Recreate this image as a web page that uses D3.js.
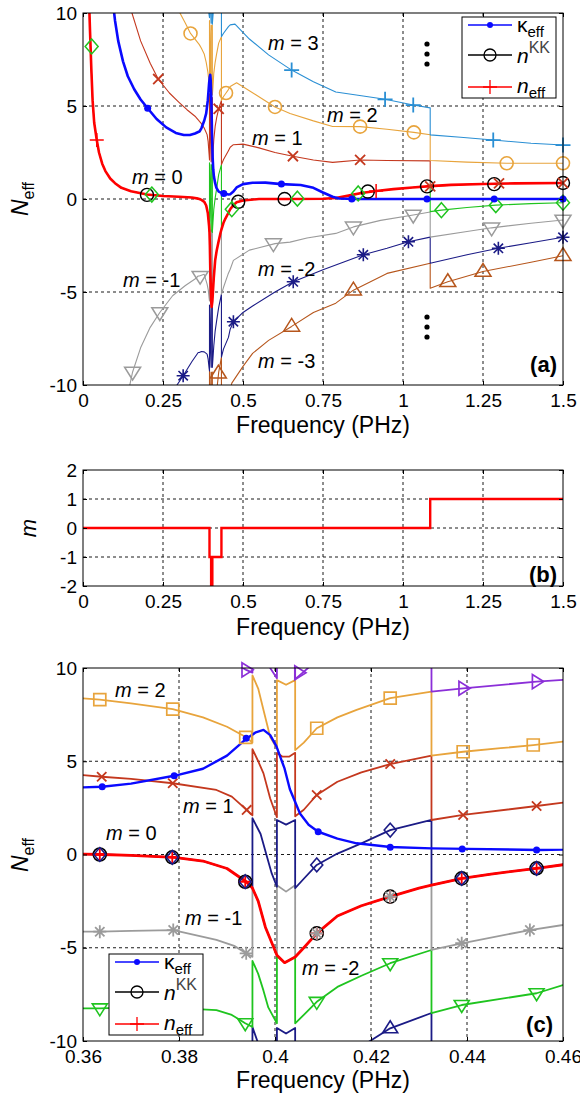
<!DOCTYPE html>
<html>
<head>
<meta charset="utf-8">
<script src="https://cdn.jsdelivr.net/npm/d3@7"></script>
<style>
  body { margin: 0; background: #fff; }
  svg text { font-family: "Liberation Sans", Arial, sans-serif; }
</style>
</head>
<body>
<svg id="fig" width="580" height="1096"></svg>
<script>
// ---------------- tick values and labels ----------------
const ticksFreqWide = [0, 0.25, 0.5, 0.75, 1, 1.25, 1.5];
const labelsFreqWide = ["0", "0.25", "0.5", "0.75", "1", "1.25", "1.5"];
const ticksN = [-10, -5, 0, 5, 10];
const labelsN = ["-10", "-5", "0", "5", "10"];
const ticksM = [-2, -1, 0, 1, 2];
const labelsM = ["-2", "-1", "0", "1", "2"];
const ticksFreqZoom = [0.36, 0.38, 0.40, 0.42, 0.44, 0.46];
const labelsFreqZoom = ["0.36", "0.38", "0.4", "0.42", "0.44", "0.46"];

// ---------------- curves: [frequency (PHz), value]; null breaks a line ----------------
// retrieved effective index n_eff
const nEff = [[0.019,10.6],[0.022,9.0],[0.026,7.0],[0.03,5.3],[0.035,4.1],[0.043,3.17],[0.05,2.5],[0.06,1.9],[0.07,1.5],[0.085,1.1],[0.1,0.85],[0.12,0.6],[0.15,0.42],[0.2,0.24],[0.25,0.16],[0.3,0.12],[0.34,0.08],[0.36,0.02],[0.364,0],[0.37,-0.05],[0.379,-0.15],[0.385,-0.35],[0.39,-0.75],[0.394,-1.46],[0.3953,-1.8],[0.3965,-2.5],[0.398,-3.9],[0.4004,-5.4],[0.402,-5.8],[0.4042,-5.5],[0.406,-5.0],[0.4087,-4.23],[0.413,-3.3],[0.418,-2.75],[0.424,-2.26],[0.43,-1.8],[0.4326,-1.64],[0.439,-1.28],[0.445,-1.05],[0.4545,-0.74],[0.46,-0.55],[0.47,-0.33],[0.48,-0.18],[0.5,-0.08],[0.55,0],[0.65,0],[0.75,0.01],[0.79,0.05],[0.83,0.18],[0.87,0.32],[0.916,0.43],[0.97,0.53],[1.03,0.62],[1.085,0.69],[1.15,0.76],[1.25,0.81],[1.35,0.84],[1.5,0.86]];

// Kramers-Kronig index n^KK
const nKK = [[0.019,10.6],[0.022,9.0],[0.026,7.0],[0.03,5.3],[0.035,4.1],[0.043,3.17],[0.05,2.5],[0.06,1.9],[0.07,1.5],[0.085,1.1],[0.1,0.85],[0.12,0.6],[0.15,0.42],[0.2,0.24],[0.25,0.16],[0.3,0.12],[0.34,0.08],[0.36,0.02],[0.364,0],[0.37,-0.05],[0.379,-0.15],[0.385,-0.35],[0.39,-0.75],[0.394,-1.46],[0.3953,-1.8],[0.3965,-2.5],[0.398,-3.9],[0.4004,-5.4],[0.402,-5.8],[0.4042,-5.5],[0.406,-5.0],[0.4087,-4.23],[0.413,-3.3],[0.418,-2.75],[0.424,-2.26],[0.43,-1.8],[0.4326,-1.64],[0.439,-1.28],[0.445,-1.05],[0.4545,-0.74],[0.46,-0.55],[0.47,-0.33],[0.48,-0.18],[0.5,-0.08],[0.55,0],[0.65,0],[0.75,0.01],[0.79,0.05],[0.83,0.18],[0.87,0.32],[0.916,0.43],[0.97,0.53],[1.03,0.62],[1.085,0.69],[1.15,0.76],[1.25,0.81],[1.35,0.84],[1.5,0.86]];

// effective extinction kappa_eff
const kappaEff = [[0.094,10.5],[0.1,9.6],[0.11,8.5],[0.125,7.4],[0.14,6.6],[0.16,5.9],[0.18,5.35],[0.202,4.88],[0.23,4.3],[0.26,3.85],[0.29,3.55],[0.315,3.44],[0.334,3.44],[0.35,3.52],[0.36,3.6],[0.364,3.63],[0.37,3.8],[0.379,4.22],[0.385,4.6],[0.39,5.3],[0.394,6.2],[0.396,6.55],[0.3976,6.68],[0.399,6.4],[0.4003,5.8],[0.402,4.6],[0.4031,3.5],[0.4052,2.2],[0.407,1.6],[0.409,1.22],[0.413,0.85],[0.417,0.6],[0.424,0.4],[0.4326,0.33],[0.44,0.3],[0.455,0.24],[0.46,0.26],[0.47,0.4],[0.48,0.62],[0.5,0.8],[0.53,0.87],[0.57,0.88],[0.62,0.8],[0.68,0.75],[0.72,0.6],[0.75,0.35],[0.78,0.12],[0.8,0.03],[0.85,0],[1.0,0],[1.5,0]];

// branch curves m = 3 ... -3
const branchP3 = [[0.36,12.4],[0.3788,11.6],[0.385,11.1],[0.39,10.5],[0.394,9.9],[0.3953,9.75],[0.3953,13.4],[0.3976,11.5],[0.399,10.0],[0.4004,9.45],[0.4004,13.0],null,[0.4042,13.0],[0.4042,9.4],[0.4087,10.4],[0.415,11.2],[0.424,11.9],[0.4326,12.2],[0.4326,8.73],[0.4392,8.91],[0.4545,9.27],[0.46,9.36],[0.475,9.4],[0.52,8.6],[0.58,7.75],[0.652,6.93],[0.72,6.3],[0.79,5.75],[0.87,5.55],[0.944,5.36],[1.032,5.05],[1.085,4.9],[1.085,3.45],[1.18,3.32],[1.282,3.17],[1.4,3.0],[1.5,2.9]];

const branchP2 = [[0.29,10.6],[0.303,10.0],[0.32,9.45],[0.336,8.9],[0.3635,8.3],[0.37,8.1],[0.3787,7.8],[0.385,7.35],[0.39,6.85],[0.3939,6.3],[0.3953,6.0],[0.3953,9.6],[0.3965,8.9],[0.3976,7.75],[0.399,6.3],[0.4004,5.7],[0.4004,9.35],[0.4023,9.1],[0.4042,9.35],[0.4042,5.6],[0.406,6.0],[0.4087,6.77],[0.413,7.35],[0.417,7.75],[0.424,8.38],[0.4326,8.73],[0.4326,5.3],[0.4392,5.51],[0.447,5.7],[0.4538,5.87],[0.46,6.05],[0.48,6.25],[0.54,5.6],[0.6,4.95],[0.647,4.6],[0.72,4.2],[0.78,3.9],[0.866,3.89],[0.95,3.75],[1.034,3.58],[1.085,3.45],[1.085,2.07],[1.2,1.98],[1.324,1.92],[1.5,1.92]];

const branchP1 = [[0.15,10.5],[0.153,10.0],[0.18,8.5],[0.21,7.3],[0.235,6.45],[0.27,5.7],[0.3,5.2],[0.325,4.8],[0.35,4.45],[0.36,4.26],[0.3639,4.17],[0.37,4.05],[0.3787,3.82],[0.3878,3.46],[0.391,3.1],[0.3941,2.39],[0.3953,2.1],[0.3953,5.65],[0.3965,5.0],[0.3976,4.35],[0.399,3.0],[0.4004,2.0],[0.4004,5.45],[0.4015,5.25],[0.403,5.25],[0.4042,5.45],[0.4042,2.05],[0.406,2.4],[0.4087,3.19],[0.413,3.9],[0.418,4.4],[0.424,4.85],[0.4326,5.3],[0.4326,1.85],[0.4392,2.12],[0.4545,2.6],[0.46,2.78],[0.47,2.92],[0.5,2.95],[0.55,2.75],[0.6,2.5],[0.656,2.3],[0.72,2.1],[0.78,1.97],[0.866,2.1],[0.95,2.07],[1.085,2.05],[1.085,0.68],[1.2,0.78],[1.3,0.84],[1.5,0.86]];

const branchP0 = [[0.019,10.6],[0.022,9.0],[0.026,7.0],[0.03,5.3],[0.035,4.1],[0.043,3.17],[0.05,2.5],[0.06,1.9],[0.07,1.5],[0.085,1.1],[0.1,0.85],[0.12,0.6],[0.15,0.42],[0.2,0.24],[0.25,0.16],[0.3,0.12],[0.34,0.08],[0.36,0.02],[0.364,0],[0.37,-0.05],[0.379,-0.15],[0.385,-0.35],[0.39,-0.75],[0.394,-1.46],[0.3953,-1.8],[0.3953,1.95],[0.397,1.1],[0.3983,-0.1],[0.3993,-1.0],[0.4004,-1.73],[0.4004,1.85],[0.4023,1.6],[0.4042,1.85],[0.4042,-1.8],[0.406,-1.3],[0.4087,-0.56],[0.413,0.05],[0.418,0.6],[0.424,1.31],[0.4326,1.85],[0.4326,-1.64],[0.439,-1.28],[0.445,-1.05],[0.4545,-0.74],[0.46,-0.55],[0.47,-0.33],[0.48,-0.18],[0.5,-0.08],[0.55,0],[0.65,0],[0.75,0.01],[0.79,0.05],[0.83,0.18],[0.87,0.32],[0.916,0.43],[0.97,0.53],[1.03,0.62],[1.085,0.69],[1.085,-0.68],[1.12,-0.6],[1.2,-0.46],[1.29,-0.33],[1.4,-0.25],[1.5,-0.2]];

const branchM1 = [[0.14,-10.5],[0.155,-9.3],[0.18,-8.0],[0.21,-6.9],[0.24,-6.1],[0.28,-5.2],[0.32,-4.65],[0.35,-4.3],[0.36,-4.14],[0.3635,-4.14],[0.37,-4.1],[0.3788,-4.05],[0.3878,-4.58],[0.3915,-4.9],[0.394,-5.3],[0.3953,-5.48],[0.3953,-1.8],[0.3965,-2.5],[0.398,-3.9],[0.4004,-5.4],[0.4004,-1.65],[0.4023,-1.99],[0.4042,-1.65],[0.4042,-5.5],[0.406,-5.0],[0.4087,-4.23],[0.413,-3.3],[0.418,-2.75],[0.424,-2.26],[0.43,-1.8],[0.4326,-1.64],[0.4326,-5.12],[0.4389,-4.76],[0.4531,-4.05],[0.46,-3.78],[0.47,-3.3],[0.52,-2.75],[0.6,-2.4],[0.647,-2.32],[0.7,-2.1],[0.79,-1.85],[0.845,-1.5],[0.93,-1.15],[1.032,-0.86],[1.085,-0.7],[1.085,-2.05],[1.2,-1.75],[1.277,-1.55],[1.4,-1.3],[1.5,-1.13]];

const branchM2 = [[0.28,-10.7],[0.29,-10.1],[0.313,-9.5],[0.34,-8.75],[0.36,-8.25],[0.3635,-8.25],[0.37,-8.2],[0.3788,-8.22],[0.3878,-8.34],[0.391,-8.6],[0.3938,-9.05],[0.3953,-9.25],[0.3953,-5.7],[0.3965,-6.4],[0.3976,-7.3],[0.3986,-8.2],[0.4004,-9.05],[0.4004,-5.45],[0.402,-5.8],[0.4042,-5.5],[0.4042,-9.05],[0.406,-8.6],[0.4087,-7.9],[0.413,-7.1],[0.418,-6.5],[0.424,-5.83],[0.4326,-5.12],[0.4326,-8.5],[0.4389,-8.07],[0.4545,-7.44],[0.46,-7.0],[0.47,-6.6],[0.5,-6.1],[0.53,-5.75],[0.6,-5.0],[0.657,-4.45],[0.75,-3.8],[0.876,-3.0],[0.95,-2.65],[1.017,-2.3],[1.085,-2.05],[1.085,-3.45],[1.2,-3.0],[1.298,-2.65],[1.4,-2.35],[1.5,-2.06]];

const branchM3 = [[0.39,-12.6],[0.3953,-13.0],[0.3953,-9.25],[0.397,-10.5],[0.399,-12.0],[0.4004,-12.6],[0.4004,-9.3],[0.4023,-9.6],[0.4042,-9.3],[0.4042,-13.0],[0.41,-11.6],[0.4198,-10.0],[0.424,-9.32],[0.4326,-8.5],[0.4326,-12.0],[0.44,-11.5],[0.455,-10.6],[0.465,-9.9],[0.5,-9.0],[0.53,-8.3],[0.58,-7.6],[0.652,-6.85],[0.72,-6.1],[0.79,-5.6],[0.845,-4.9],[0.95,-4.0],[1.085,-3.45],[1.085,-4.8],[1.14,-4.45],[1.25,-3.9],[1.4,-3.4],[1.5,-3.05]];

// branch index m selected by the retrieval
const stepFreq = [0, 0.3953, 0.4004, 0.4042, 0.4326, 1.085, 1.5];
const stepM = [0, -1, -2, -1, 0, 1, 1];

// ---------------- marker positions ----------------
const wideKappaMk = [[0.202,4.88],[0.44,0.3],[0.62,0.8],[0.84,0],[1.075,0],[1.285,0],[1.5,0]];
const wideKKMk = [[0.2,0.22],[0.485,-0.15],[0.63,0],[0.89,0.4],[1.075,0.68],[1.285,0.8],[1.5,0.86]];
const wideNeffMk = [[0.043,3.17],[0.916,0.43]];
const wideP3Mk = [[0.652,6.93],[0.944,5.36],[1.032,5.05],[1.282,3.17],[1.5,2.9]];
const wideP2Mk = [[0.336,8.9],[0.447,5.7],[0.6,4.95],[0.866,3.89],[1.034,3.58],[1.324,1.92],[1.5,1.92]];
const wideP1Mk = [[0.235,6.45],[0.424,4.85],[0.656,2.3],[0.866,2.1],[1.085,0.68],[1.3,0.84],[1.5,0.86]];
const wideP0Mk = [[0.027,8.2],[0.215,0.24],[0.465,-0.55],[0.67,0.02],[0.86,0.3],[1.12,-0.6],[1.29,-0.33],[1.5,-0.2]];
const wideM1Mk = [[0.155,-9.3],[0.24,-6.1],[0.366,-4.15],[0.595,-2.4],[0.845,-1.5],[1.032,-0.86],[1.277,-1.55],[1.5,-1.13]];
const wideM2Mk = [[0.313,-9.5],[0.47,-6.6],[0.657,-4.45],[0.876,-3.0],[1.017,-2.3],[1.298,-2.65],[1.5,-2.06]];
const wideM3Mk = [[0.423,-9.37],[0.652,-6.85],[0.845,-4.9],[1.14,-4.45],[1.25,-3.9],[1.5,-3.05]];

const zoomKappaMk = [[0.364,3.63],[0.379,4.22],[0.394,6.23],[0.409,1.22],[0.424,0.39],[0.439,0.3],[0.4545,0.24]];
const zoomKKMk = [[0.3635,0],[0.3786,-0.15],[0.3938,-1.46],[0.4087,-4.23],[0.424,-2.26],[0.4389,-1.28],[0.4545,-0.74]];
const zoomNeffMk = [[0.3635,0],[0.3786,-0.15],[0.3938,-1.46],[0.4087,-4.23],[0.424,-2.26],[0.4389,-1.28],[0.4545,-0.74]];
const zoomP3Mk = [[0.394,9.9],[0.405,9.75],[0.4392,8.91],[0.4545,9.27]];
const zoomP2Mk = [[0.3635,8.3],[0.3787,7.8],[0.3939,6.28],[0.4087,6.77],[0.424,8.38],[0.4392,5.51],[0.4538,5.87]];
const zoomP1Mk = [[0.3639,4.17],[0.3787,3.82],[0.3941,2.39],[0.4087,3.19],[0.424,4.85],[0.4392,2.12],[0.4545,2.6]];
const zoomP0Mk = [[0.3635,0],[0.3786,-0.15],[0.3938,-1.46],[0.4087,-0.56],[0.424,1.31],[0.4389,-1.28],[0.4545,-0.74]];
const zoomM1Mk = [[0.3635,-4.14],[0.3788,-4.05],[0.394,-5.3],[0.4087,-4.23],[0.424,-2.26],[0.4389,-4.76],[0.4531,-4.05]];
const zoomM2Mk = [[0.3635,-8.25],[0.3788,-8.22],[0.3938,-9.05],[0.4087,-7.9],[0.424,-5.83],[0.4389,-8.07],[0.4545,-7.44]];
const zoomM3Mk = [[0.424,-9.32]];

// ---------------- colours ----------------
const C = {
  red: "#ff0000", blue: "#0a0aff", black: "#000000",
  lightblue: "#2a8fd4", orange: "#e8a43c", darkred: "#c4381e",
  green: "#1fc41f", gray: "#9b9b9b", navy: "#1b1b86",
  brown: "#b6561c", purple: "#8b2fd8"
};

const svg = d3.select("#fig");
svg.append("rect").attr("width", 580).attr("height", 1096).attr("fill", "#fff");
const defs = svg.append("defs");

function makePanel(name, box, xDom, yDom, xt, yt) {
  const x = d3.scaleLinear().domain(xDom).range([box.l, box.r]);
  const y = d3.scaleLinear().domain(yDom).range([box.b, box.t]);
  const g = svg.append("g");
  defs.append("clipPath").attr("id", "clip-" + name)
    .append("rect").attr("x", box.l).attr("y", box.t)
    .attr("width", box.r - box.l).attr("height", box.b - box.t);
  const grid = g.append("g").attr("stroke", "#000").attr("stroke-width", 0.9)
    .attr("stroke-dasharray", "3,3");
  grid.selectAll(".gx").data(xt.filter(v => v > xDom[0] + 1e-9 && v < xDom[1] - 1e-9))
    .join("line").attr("x1", d => x(d)).attr("x2", d => x(d))
    .attr("y1", box.t).attr("y2", box.b);
  grid.selectAll(".gy").data(yt.filter(v => v > yDom[0] && v < yDom[1]))
    .join("line").attr("y1", d => y(d)).attr("y2", d => y(d))
    .attr("x1", box.l).attr("x2", box.r);
  const plot = g.append("g").attr("clip-path", `url(#clip-${name})`);
  const marks = g.append("g");
  const top = g.append("g");
  return { x, y, g, plot, marks, top, box };
}

function finishPanel(p, xt, xl, yt, yl) {
  const b = p.box;
  const fs = 19;
  p.top.append("g").attr("transform", `translate(0,${b.b})`)
    .call(d3.axisBottom(p.x).tickValues(xt).tickFormat((d, i) => xl[i])
      .tickSizeInner(-4).tickSizeOuter(0).tickPadding(9));
  p.top.append("g").attr("transform", `translate(${b.l},0)`)
    .call(d3.axisLeft(p.y).tickValues(yt).tickFormat((d, i) => yl[i])
      .tickSizeInner(-4).tickSizeOuter(0).tickPadding(6));
  p.top.append("g").attr("transform", `translate(0,${b.t})`)
    .call(d3.axisTop(p.x).tickValues(xt).tickFormat("").tickSizeInner(-4).tickSizeOuter(0));
  p.top.append("g").attr("transform", `translate(${b.r},0)`)
    .call(d3.axisRight(p.y).tickValues(yt).tickFormat("").tickSizeInner(-4).tickSizeOuter(0));
  p.top.selectAll(".domain").remove();
  p.top.selectAll("text").attr("font-size", fs)
    .attr("font-family", '"Liberation Sans", Arial, sans-serif').attr("fill", "#000");
  p.top.append("rect").attr("x", b.l).attr("y", b.t)
    .attr("width", b.r - b.l).attr("height", b.b - b.t)
    .attr("fill", "none").attr("stroke", "#000").attr("stroke-width", 1);
}

function drawLine(p, data, color, width) {
  p.plot.append("path").datum(data)
    .attr("fill", "none").attr("stroke", color).attr("stroke-width", width)
    .attr("stroke-linejoin", "round")
    .attr("d", d3.line().defined(d => d !== null).x(d => p.x(d[0])).y(d => p.y(d[1])));
}

function markerPath(type, r) {
  const a = r * 0.72;
  switch (type) {
    case "circle": return `M${r},0A${r},${r} 0 1,1 ${-r},0A${r},${r} 0 1,1 ${r},0Z`;
    case "plus": return `M${-r},0H${r}M0,${-r}V${r}`;
    case "cross": return `M${-a},${-a}L${a},${a}M${-a},${a}L${a},${-a}`;
    case "star": return `M${-r},0H${r}M0,${-r}V${r}M${-a},${-a}L${a},${a}M${-a},${a}L${a},${-a}`;
    case "square": return `M${-r},${-r}H${r}V${r}H${-r}Z`;
    case "diamond": return `M0,${-r * 1.15}L${r},0L0,${r * 1.15}L${-r},0Z`;
    case "tdown": return `M${-r},${-r * 0.6}L${r},${-r * 0.6}L0,${r}Z`;
    case "tup": return `M${-r},${r * 0.6}L${r},${r * 0.6}L0,${-r}Z`;
    case "tright": return `M${-r * 0.6},${-r}L${-r * 0.6},${r}L${r},0Z`;
  }
}

function drawMarkers(p, data, type, color, r, sw) {
  const sel = p.marks.append("g").selectAll("path").data(data).join("path")
    .attr("transform", d => `translate(${p.x(d[0])},${p.y(d[1])})`);
  if (type === "dot") {
    sel.attr("d", markerPath("circle", r)).attr("fill", color).attr("stroke", "none");
  } else {
    sel.attr("d", markerPath(type, r)).attr("fill", "none")
      .attr("stroke", color).attr("stroke-width", sw);
  }
}

function mLabel(g, x, y, val) {
  const t = g.append("text").attr("x", x).attr("y", y).attr("font-size", 20).attr("fill", "#000");
  t.append("tspan").attr("font-style", "italic").text("m");
  t.append("tspan").text(" = " + val);
}

function yTitleN(cx, cy) {
  const t = svg.append("text").attr("transform", `translate(${cx},${cy}) rotate(-90)`)
    .attr("text-anchor", "middle").attr("font-size", 23).attr("fill", "#000");
  t.append("tspan").attr("font-style", "italic").text("N");
  t.append("tspan").attr("font-size", 16).attr("dy", 6).text("eff");
}

function xTitle(cx, y) {
  svg.append("text").attr("x", cx).attr("y", y).attr("text-anchor", "middle")
    .attr("font-size", 23).attr("fill", "#000").text("Frequency (PHz)");
}

function panelTag(x, y, s) {
  svg.append("text").attr("x", x).attr("y", y).attr("text-anchor", "end")
    .attr("font-family", '"Liberation Serif", "Times New Roman", serif')
    .attr("font-weight", "bold").attr("font-size", 22).attr("fill", "#000").text(s);
}

function legend(p, x0, y0) {
  const g = p.top.append("g").attr("transform", `translate(${x0},${y0})`);
  g.append("rect").attr("width", 94).attr("height", 81).attr("fill", "#fff")
    .attr("stroke", "#000").attr("stroke-width", 1);
  const rows = [
    { y: 8, color: C.blue, mk: "dot", r: 3 },
    { y: 38, color: C.black, mk: "circle", r: 6 },
    { y: 70, color: C.red, mk: "plus", r: 7 }
  ];
  rows.forEach(rw => {
    g.append("line").attr("x1", 6).attr("x2", 50).attr("y1", rw.y).attr("y2", rw.y)
      .attr("stroke", rw.color).attr("stroke-width", 1.3);
    const m = g.append("path").attr("transform", `translate(28,${rw.y})`)
      .attr("d", markerPath(rw.mk === "dot" ? "circle" : rw.mk, rw.r));
    if (rw.mk === "dot") m.attr("fill", rw.color);
    else m.attr("fill", "none").attr("stroke", rw.color).attr("stroke-width", 1.3);
  });
  const t1 = g.append("text").attr("x", 55).attr("y", 15).attr("font-size", 21);
  t1.append("tspan").text("κ");
  t1.append("tspan").attr("font-size", 15).attr("dy", 5).text("eff");
  const t2 = g.append("text").attr("x", 55).attr("y", 46).attr("font-size", 21);
  t2.append("tspan").attr("font-style", "italic").text("n");
  t2.append("tspan").attr("font-size", 16).attr("dy", -10).attr("fill", "#444").text("KK");
  const t3 = g.append("text").attr("x", 55).attr("y", 76).attr("font-size", 21);
  t3.append("tspan").attr("font-style", "italic").text("n");
  t3.append("tspan").attr("font-size", 15).attr("dy", 5).text("eff");
}

// ================= panel (a): full band =================
const A = makePanel("a", { l: 83, r: 563, t: 13, b: 385 }, [0, 1.5], [-10, 10], ticksFreqWide, ticksN);
drawLine(A, branchM3, C.brown, 1.1);
drawLine(A, branchM2, C.navy, 1.1);
drawLine(A, branchM1, C.gray, 1.1);
drawLine(A, branchP0, C.green, 1.1);
drawLine(A, branchP1, C.darkred, 1.1);
drawLine(A, branchP2, C.orange, 1.1);
drawLine(A, branchP3, C.lightblue, 1.1);
drawLine(A, nKK, C.black, 1.0);
drawLine(A, nEff, C.red, 2.6);
drawLine(A, kappaEff, C.blue, 2.6);
drawMarkers(A, wideKKMk, "circle", C.black, 6.5, 1.4);
drawMarkers(A, wideNeffMk, "plus", C.red, 7, 1.5);
drawMarkers(A, wideM3Mk, "tup", C.brown, 8, 1.5);
drawMarkers(A, wideM2Mk, "star", C.navy, 6.5, 1.6);
drawMarkers(A, wideM1Mk, "tdown", C.gray, 8, 1.5);
drawMarkers(A, wideP0Mk, "diamond", C.green, 6.5, 1.5);
drawMarkers(A, wideP1Mk, "cross", C.darkred, 7, 1.8);
drawMarkers(A, wideP2Mk, "circle", C.orange, 6.5, 1.6);
drawMarkers(A, wideP3Mk, "plus", C.lightblue, 7.5, 1.8);
drawMarkers(A, wideKappaMk, "dot", C.blue, 3.5, 0);

mLabel(A.marks, 268, 50, "3");
mLabel(A.marks, 327, 122, "2");
mLabel(A.marks, 252, 145, "1");
mLabel(A.marks, 132, 184, "0");
mLabel(A.marks, 123, 287, "-1");
mLabel(A.marks, 258, 276, "-2");
mLabel(A.marks, 258, 368, "-3");
[44, 54, 64, 317, 327, 337].forEach(cy => {
  A.marks.append("circle").attr("cx", 427).attr("cy", cy).attr("r", 2.6).attr("fill", "#000");
});
finishPanel(A, ticksFreqWide, labelsFreqWide, ticksN, labelsN);
legend(A, 462, 17);
yTitleN(28, 199);
xTitle(323, 433);
panelTag(557, 372, "(a)");

// ================= panel (b): branch index =================
const B = makePanel("b", { l: 83, r: 563, t: 470, b: 586 }, [0, 1.5], [-2, 2], ticksFreqWide, ticksM);
const steps = stepFreq.map((f, i) => [f, stepM[i]]);
B.plot.append("path").datum(steps).attr("fill", "none").attr("stroke", C.red)
  .attr("stroke-width", 2.4)
  .attr("d", d3.line().curve(d3.curveStepAfter).x(d => B.x(d[0])).y(d => B.y(d[1])));
finishPanel(B, ticksFreqWide, labelsFreqWide, ticksM, labelsM);
svg.append("text").attr("transform", "translate(36,528) rotate(-90)")
  .attr("text-anchor", "middle").attr("font-size", 22).attr("font-style", "italic").text("m");
xTitle(323, 635);
panelTag(557, 582, "(b)");

// ================= panel (c): zoom on the resonance =================
const Cz = makePanel("c", { l: 83, r: 563, t: 668, b: 1041 }, [0.36, 0.46], [-10, 10], ticksFreqZoom, ticksN);
drawLine(Cz, branchM3, C.navy, 1.8);
drawLine(Cz, branchM2, C.green, 1.8);
drawLine(Cz, branchM1, C.gray, 1.8);
drawLine(Cz, branchP0, C.navy, 1.8);
drawLine(Cz, branchP1, C.darkred, 1.8);
drawLine(Cz, branchP2, C.orange, 1.8);
drawLine(Cz, branchP3, C.purple, 1.8);
drawLine(Cz, nKK, C.black, 1.2);
drawLine(Cz, nEff, C.red, 2.8);
drawLine(Cz, kappaEff, C.blue, 2.4);
drawMarkers(Cz, zoomKKMk, "circle", C.black, 6.5, 1.6);
drawMarkers(Cz, zoomNeffMk, "plus", C.red, 6.5, 1.8);
drawMarkers(Cz, zoomM3Mk, "tup", C.navy, 7.5, 1.6);
drawMarkers(Cz, zoomM2Mk, "tdown", C.green, 7.5, 1.6);
drawMarkers(Cz, zoomM1Mk, "star", C.gray, 6.5, 1.8);
drawMarkers(Cz, zoomP0Mk, "diamond", C.navy, 6, 1.6);
drawMarkers(Cz, zoomP1Mk, "cross", C.darkred, 6.5, 1.8);
drawMarkers(Cz, zoomP2Mk, "square", C.orange, 6, 1.7);
drawMarkers(Cz, zoomP3Mk, "tright", C.purple, 7, 1.7);
drawMarkers(Cz, zoomKappaMk, "dot", C.blue, 3.5, 0);

mLabel(Cz.marks, 115, 697, "2");
mLabel(Cz.marks, 183, 813, "1");
mLabel(Cz.marks, 106, 840, "0");
mLabel(Cz.marks, 185, 925, "-1");
mLabel(Cz.marks, 302, 975, "-2");
finishPanel(Cz, ticksFreqZoom, labelsFreqZoom, ticksN, labelsN);
legend(Cz, 109, 954);
yTitleN(28, 855);
xTitle(323, 1088);
panelTag(553, 1032, "(c)");
</script>
</body>
</html>
